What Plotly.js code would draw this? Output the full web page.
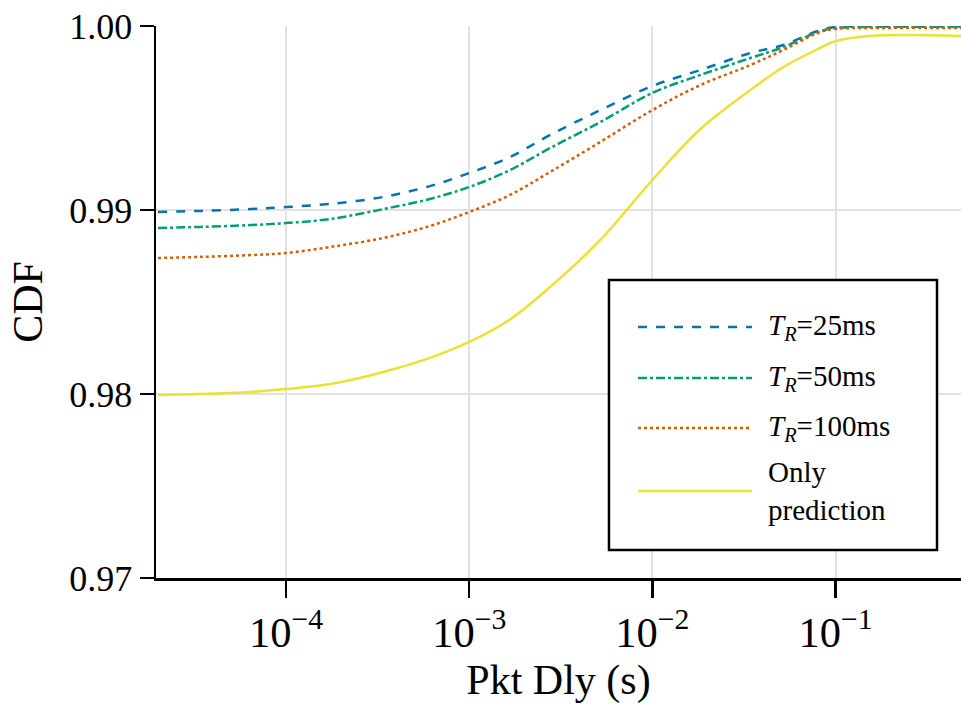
<!DOCTYPE html>
<html>
<head>
<meta charset="utf-8">
<script src="https://cdn.plot.ly/plotly-3.0.1.min.js"></script>
<style>html,body{margin:0;padding:0;background:#fff;}#chart{width:961px;height:704px;}</style>
</head>
<body>
<div id="chart"></div>
<script>
const delay = [2e-5, 3.4e-5, 6.4e-5, 1e-4, 1.74e-4, 3.4e-4, 6.1e-4, 1e-3, 1.67e-3, 2.77e-3, 5.2e-3, 1e-2, 1.83e-2, 3.43e-2, 5.2e-2, 8e-2, 0.1, 0.153, 0.5];
const cdf25 = [0.98989, 0.98995, 0.99005, 0.99016, 0.99033, 0.99071, 0.99130, 0.99201, 0.99288, 0.99408, 0.99543, 0.99674, 0.99761, 0.99853, 0.99897, 0.99973, 0.99995, 0.99997, 0.99997];
const cdf50 = [0.98902, 0.98908, 0.98918, 0.98929, 0.98951, 0.99005, 0.99060, 0.99125, 0.99217, 0.99337, 0.99478, 0.99636, 0.99734, 0.99826, 0.99886, 0.99967, 0.99989, 0.99995, 0.99995];
const cdf100 = [0.98739, 0.98745, 0.98755, 0.98766, 0.98799, 0.98848, 0.98913, 0.98989, 0.99082, 0.99207, 0.99370, 0.99543, 0.99679, 0.99788, 0.99870, 0.99962, 0.99984, 0.99989, 0.99989];
const cdfPred = [0.97995, 0.98000, 0.98011, 0.98027, 0.98054, 0.98120, 0.98196, 0.98283, 0.98405, 0.98582, 0.98837, 0.99163, 0.99440, 0.99652, 0.99777, 0.99875, 0.99918, 0.99946, 0.99946];
const names = ["<i>T</i><sub><i>R</i></sub>=25ms", "<i>T</i><sub><i>R</i></sub>=50ms", "<i>T</i><sub><i>R</i></sub>=100ms", "Only<br>prediction"];
const yTicks = [0.97, 0.98, 0.99, 1.00];
const yTickText = ["0.97", "0.98", "0.99", "1.00"];

const series = [cdf25, cdf50, cdf100, cdfPred];
const colors = ["#0173b2", "#029e73", "#d55e00", "#ece133"];
const dashes = ["dash", "dashdot", "dot", "solid"];
const traces = series.map((s, i) => ({
  x: delay, y: s, type: "scatter", mode: "lines", name: names[i],
  line: {color: colors[i], width: 2.5, dash: dashes[i], shape: "spline", smoothing: 1}
}));

// manual legend (paper coordinates)
const font = "Liberation Serif";
const legX0 = 0.5627, legX1 = 0.9702, legY0 = 0.0507, legY1 = 0.5399;
const sampX0 = 0.5988, sampX1 = 0.7404, textX = 0.7578;
const rowY = [0.4547, 0.3623, 0.2717, 0.1576];
const shapes = [{type: "rect", xref: "paper", yref: "paper", x0: legX0, x1: legX1, y0: legY0, y1: legY1,
  fillcolor: "#fff", line: {color: "#000", width: 2.5}, layer: "above"}];
const annotations = [];
names.forEach((n, i) => {
  shapes.push({type: "line", xref: "paper", yref: "paper", x0: sampX0, x1: sampX1, y0: rowY[i], y1: rowY[i],
    line: {color: colors[i], width: 2.5, dash: dashes[i]}, layer: "above"});
  annotations.push({xref: "paper", yref: "paper", x: textX, y: rowY[i], xanchor: "left", yanchor: "middle",
    text: n, showarrow: false, align: "left", font: {family: font, size: 29, color: "#000"}});
});

const layout = {
  width: 961, height: 704,
  margin: {l: 156, r: 0, t: 26, b: 126},
  paper_bgcolor: "#fff", plot_bgcolor: "#fff",
  font: {family: font, color: "#000", size: 32},
  showlegend: false,
  shapes: shapes, annotations: annotations,
  xaxis: {
    type: "log", range: [-4.71, -0.315],
    dtick: 1, exponentformat: "power", showexponent: "all",
    showgrid: true, gridcolor: "#e2e2e2", gridwidth: 2,
    showline: true, linecolor: "#000", linewidth: 2.5,
    ticks: "outside", ticklen: 17, tickwidth: 2.5, tickcolor: "#000",
    tickfont: {family: font, size: 34},
    zeroline: false,
    title: {text: "Pkt Dly (s)", font: {family: font, size: 42}, standoff: 12}
  },
  yaxis: {
    range: [0.97, 1.0], tickvals: yTicks, ticktext: yTickText,
    showgrid: true, gridcolor: "#e2e2e2", gridwidth: 2,
    showline: true, linecolor: "#000", linewidth: 2.5,
    ticks: "outside", ticklen: 14, tickwidth: 2.5, tickcolor: "#000",
    tickfont: {family: font, size: 36},
    zeroline: false,
    title: {text: "CDF", font: {family: font, size: 42}, standoff: 14}
  }
};
Plotly.newPlot("chart", traces, layout, {displayModeBar: false, staticPlot: true});
</script>
</body>
</html>
